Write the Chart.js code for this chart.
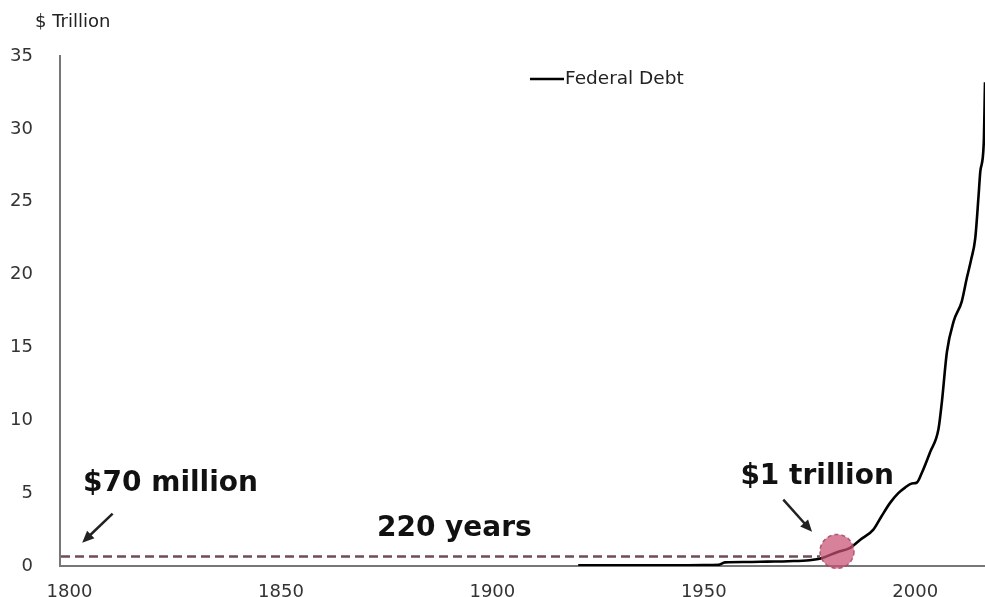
<!DOCTYPE html>
<html>
<head>
<meta charset="utf-8">
<title>Federal Debt</title>
<script src="https://cdn.jsdelivr.net/npm/chart.js@4.4.1/dist/chart.umd.min.js"></script>
<style>
    html, body { margin: 0; padding: 0; background: #fff; }
    #wrap { width: 985px; height: 597px; }
</style>
</head>
<body>
<div id="wrap"><canvas id="debtChart" width="985" height="597"></canvas></div>
<script>
// Federal debt, $ trillion
const debtYears = [1920.3, 1930, 1940, 1950, 1953.5, 1955, 1960, 1965, 1970, 1975, 1978, 1981.5,
    1984.6, 1987, 1990.1, 1992, 1994.1, 1996, 1997.6, 1999.2, 2000.4, 2001.6, 2003.5, 2005.5,
    2006.3, 2007.5, 2009.1, 2011, 2012.2, 2013.2, 2014.2, 2015, 2015.4, 2016.2, 2016.5];
const debtValues = [0.05, 0.05, 0.05, 0.06, 0.08, 0.25, 0.27, 0.3, 0.33, 0.4, 0.55, 0.95,
    1.24, 1.8, 2.5, 3.4, 4.35, 5.0, 5.38, 5.66, 5.73, 6.42, 7.8, 9.4,
    11.25, 14.7, 16.8, 18.15, 19.76, 21.0, 22.5, 25.5, 27.1, 29.0, 33.2];

const xTicks = [1800, 1850, 1900, 1950, 2000];
const yTicks = [0, 5, 10, 15, 20, 25, 30, 35];

// callouts
const startYear = 1800;
const startLabel = '$70 million';
const trillionYear = 1981.5;
const trillionValue = 1;
const trillionLabel = '$1 trillion';
const spanLabel = '220 years';
const spanLevel = 0.65;

const FONT = '"DejaVu Sans", "Liberation Sans", sans-serif';

function arrow(ctx, x1, y1, x2, y2) {
    const ang = Math.atan2(y2 - y1, x2 - x1);
    const head = 13;
    ctx.save();
    ctx.strokeStyle = '#222';
    ctx.fillStyle = '#222';
    ctx.lineWidth = 2.5;
    ctx.beginPath();
    ctx.moveTo(x1, y1);
    ctx.lineTo(x2 - Math.cos(ang) * head * 0.8, y2 - Math.sin(ang) * head * 0.8);
    ctx.stroke();
    ctx.beginPath();
    ctx.moveTo(x2, y2);
    ctx.lineTo(x2 - head * Math.cos(ang - 0.42), y2 - head * Math.sin(ang - 0.42));
    ctx.lineTo(x2 - head * Math.cos(ang + 0.42), y2 - head * Math.sin(ang + 0.42));
    ctx.closePath();
    ctx.fill();
    ctx.restore();
}

const callouts = {
    id: 'callouts',
    afterDatasetsDraw(chart) {
        const { ctx, scales: { x, y } } = chart;
        const cx = x.getPixelForValue(trillionYear);
        const cy = y.getPixelForValue(trillionValue);
        const r = 17;

        // 220-year span
        ctx.save();
        ctx.strokeStyle = '#6e4c58';
        ctx.lineWidth = 2.5;
        ctx.setLineDash([9, 5]);
        ctx.beginPath();
        ctx.moveTo(x.left + 1, y.getPixelForValue(spanLevel));
        ctx.lineTo(cx - r, y.getPixelForValue(spanLevel));
        ctx.stroke();
        ctx.restore();

        // $1 trillion marker
        ctx.save();
        ctx.beginPath();
        ctx.arc(cx, cy, r, 0, Math.PI * 2);
        ctx.fillStyle = 'rgba(200, 80, 115, 0.72)';
        ctx.fill();
        ctx.setLineDash([4, 3]);
        ctx.lineWidth = 1.5;
        ctx.strokeStyle = 'rgba(165, 70, 100, 0.85)';
        ctx.stroke();
        ctx.restore();

        // arrows
        arrow(ctx, x.getPixelForValue(1810.2), y.getPixelForValue(3.6),
            x.getPixelForValue(startYear + 3), y.getPixelForValue(1.6));
        arrow(ctx, x.getPixelForValue(1968.8), y.getPixelForValue(4.55),
            x.getPixelForValue(1975.6), y.getPixelForValue(2.35));

        // labels
        ctx.save();
        ctx.fillStyle = '#111';
        ctx.font = 'bold 28px ' + FONT;
        ctx.textBaseline = 'middle';
        ctx.textAlign = 'left';
        ctx.fillText(startLabel, x.getPixelForValue(startYear + 3.2), y.getPixelForValue(5.66));
        ctx.textAlign = 'center';
        ctx.fillText(spanLabel, x.getPixelForValue(1891), y.getPixelForValue(2.55));
        ctx.fillText(trillionLabel, x.getPixelForValue(1976.8), y.getPixelForValue(6.14));
        ctx.restore();
    },
    afterDraw(chart) {
        const { ctx, chartArea } = chart;
        ctx.save();
        // unit
        ctx.fillStyle = '#222';
        ctx.font = '18px ' + FONT;
        ctx.textAlign = 'left';
        ctx.textBaseline = 'middle';
        ctx.fillText('$ Trillion', chartArea.left - 25, chartArea.top - 34);
        // legend
        const lx = chartArea.left + 470;
        const ly = chartArea.top + 23;
        ctx.strokeStyle = '#000';
        ctx.lineWidth = 2.5;
        ctx.beginPath();
        ctx.moveTo(lx, ly);
        ctx.lineTo(lx + 34, ly);
        ctx.stroke();
        ctx.font = '18.5px ' + FONT;
        ctx.fillText(chart.data.datasets[0].label, lx + 35, ly);
        ctx.restore();
    }
};

const points = debtYears.map((yr, i) => ({ x: yr, y: debtValues[i] }));

new Chart(document.getElementById('debtChart'), {
    type: 'line',
    data: {
        datasets: [{
            label: 'Federal Debt',
            data: points,
            borderColor: '#000',
            borderWidth: 2.6,
            pointRadius: 0,
            cubicInterpolationMode: 'monotone',
            fill: false
        }]
    },
    options: {
        responsive: false,
        animation: false,
        devicePixelRatio: 1,
        layout: { padding: { top: 56, right: 0, bottom: 0, left: 0 } },
        plugins: {
            legend: { display: false },
            tooltip: { enabled: false }
        },
        scales: {
            x: {
                type: 'linear',
                min: 1797.75,
                max: 2016.5,
                grid: { display: false },
                border: { display: true, color: '#777', width: 2 },
                afterBuildTicks: axis => { axis.ticks = xTicks.map(v => ({ value: v })); },
                afterFit: axis => { axis.height = 31; },
                ticks: {
                    padding: 8,
                    maxRotation: 0,
                    color: '#333',
                    font: { family: FONT, size: 18 },
                    callback: v => String(v)
                }
            },
            y: {
                min: 0,
                max: 35,
                grid: { display: false },
                border: { display: true, color: '#777', width: 2 },
                afterBuildTicks: axis => { axis.ticks = yTicks.map(v => ({ value: v })); },
                afterFit: axis => { axis.width = 60; },
                ticks: {
                    padding: 19,
                    color: '#333',
                    font: { family: FONT, size: 18 }
                }
            }
        }
    },
    plugins: [callouts]
});
</script>
</body>
</html>
